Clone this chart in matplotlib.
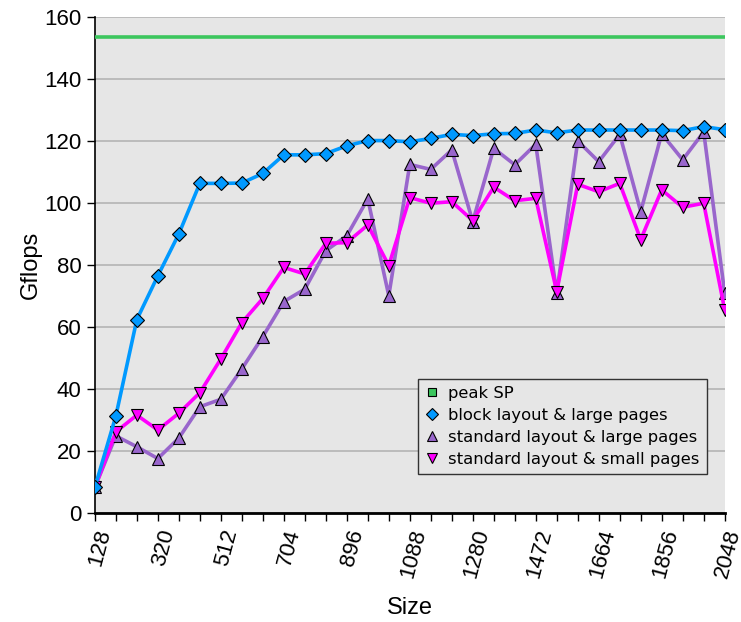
import numpy as np
import matplotlib.pyplot as plt
from matplotlib.lines import Line2D

plt.rcParams['font.family'] = ['Liberation Sans', 'DejaVu Sans']

sizes = list(range(128, 2049, 64))
peak_sp = 153.6
block_large = [8.3, 31.3, 62.4, 76.5, 90.0, 106.3, 106.3, 106.4, 109.5, 115.5, 115.5,
               115.9, 118.4, 120.1, 120.1, 119.7, 120.8, 122.1, 121.7, 122.3, 122.4,
               123.5, 122.6, 123.5, 123.5, 123.5, 123.5, 123.5, 123.3, 124.6, 123.6]
std_large = [8.3, 24.9, 21.4, 17.6, 24.2, 34.3, 36.7, 46.5, 56.9, 68.2, 72.2,
             84.6, 89.4, 101.3, 70.1, 112.4, 110.8, 117.1, 94.0, 117.6, 112.3,
             118.9, 70.9, 120.0, 113.3, 122.1, 97.2, 122.3, 113.9, 122.9, 70.9]
std_small = [8.3, 26.2, 31.6, 26.8, 32.2, 38.8, 49.7, 61.4, 69.2, 79.2, 77.1,
             87.0, 87.2, 92.9, 79.8, 101.7, 99.9, 100.4, 94.3, 105.1, 100.7,
             101.5, 71.4, 106.0, 103.6, 106.3, 88.2, 104.2, 98.6, 99.9, 65.5]
major_ticks = sizes[::3]

green = '#3cc65e'
blue = '#0099ff'
purple = '#9966cc'
magenta = '#ff00ff'

fig = plt.figure(figsize=(7.41, 6.22), dpi=100)
ax = fig.add_axes([0.128, 0.175, 0.85, 0.798])
ax.set_facecolor('#e6e6e6')

ax.axhline(peak_sp, color=green, lw=2.6, zorder=3)
ax.plot(sizes, block_large, color=blue, lw=2.6, marker='D', ms=6.8,
        mfc=blue, mec='black', mew=0.8, zorder=6)
ax.plot(sizes, std_large, color=purple, lw=2.6, marker='^', ms=8,
        mfc=purple, mec='black', mew=0.8, zorder=4)
ax.plot(sizes, std_small, color=magenta, lw=2.6, marker='v', ms=8,
        mfc=magenta, mec='black', mew=0.8, zorder=5)

ax.set_xlim(128, 2048)
ax.set_ylim(0, 160)
ax.set_yticks(range(0, 161, 20))
ax.set_xticks(major_ticks)
ax.set_xticks(sizes, minor=True)
ax.set_xticklabels([str(s) for s in major_ticks], rotation=75, ha='right',
                   rotation_mode='anchor', fontsize=16)
ax.tick_params(axis='y', labelsize=16, length=6, width=1, direction='out')
ax.tick_params(axis='x', which='both', length=6, width=1, direction='out', pad=4)
ax.grid(axis='y', color='#b4b4b4', lw=1.2, zorder=1)
ax.set_axisbelow(True)
for s in ['top', 'right']:
    ax.spines[s].set_visible(False)
ax.spines['left'].set_linewidth(1.2)
ax.spines['bottom'].set_linewidth(2)

ax.set_xlabel('Size', fontsize=17, labelpad=12)
ax.set_ylabel('Gflops', fontsize=17, labelpad=2)

handles = [
    Line2D([], [], ls='none', marker='s', ms=6, mfc=green, mec='black', mew=0.8),
    Line2D([], [], ls='none', marker='D', ms=6, mfc=blue, mec='black', mew=0.8),
    Line2D([], [], ls='none', marker='^', ms=6.5, mfc=purple, mec='black', mew=0.8),
    Line2D([], [], ls='none', marker='v', ms=6.5, mfc=magenta, mec='black', mew=0.8),
]
labels = ['peak SP', 'block layout & large pages', 'standard layout & large pages',
          'standard layout & small pages']
leg = ax.legend(handles, labels, loc='lower left', bbox_to_anchor=(0.5, 0.062),
                prop={'family': 'DejaVu Sans', 'size': 11.8}, handlelength=0.8,
                handletextpad=0.6, labelspacing=0.42, borderpad=0.45, fancybox=False,
                facecolor='#e6e6e6', edgecolor='#333333', framealpha=1)
leg.get_frame().set_linewidth(1)

fig.savefig('out.png', dpi=100)
